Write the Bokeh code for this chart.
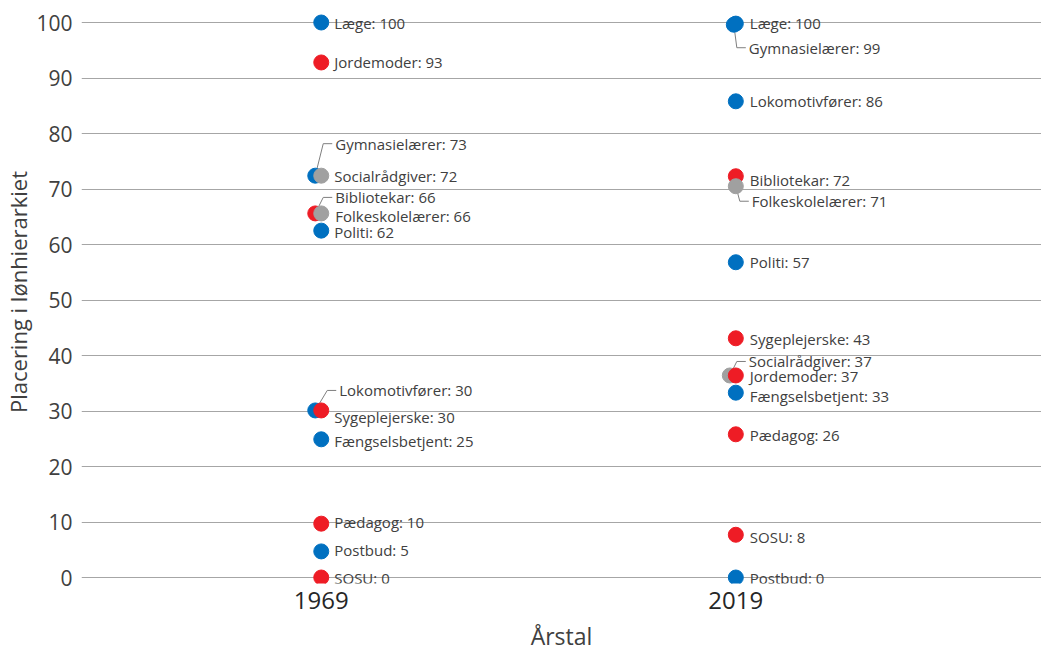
from bokeh.plotting import figure
from bokeh.models import ColumnDataSource, Range1d, FixedTicker
from bokeh.core.properties import value
from bokeh.embed import file_html
from bokeh.resources import INLINE
import math

# ---------------- data ----------------
years = [1969, 2019]

prof_1969 = ["Læge", "Jordemoder", "Gymnasielærer", "Socialrådgiver", "Bibliotekar",
             "Folkeskolelærer", "Politi", "Lokomotivfører", "Sygeplejerske",
             "Fængselsbetjent", "Pædagog", "Postbud", "SOSU"]
rank_1969 = [100, 93, 73, 72, 66, 66, 62, 30, 30, 25, 10, 5, 0]
pos_1969 = [100, 92.8, 72.4, 72.4, 65.6, 65.6, 62.5, 30.1, 30.1, 24.9, 9.7, 4.7, 0]

prof_2019 = ["Læge", "Gymnasielærer", "Lokomotivfører", "Bibliotekar", "Folkeskolelærer",
             "Politi", "Sygeplejerske", "Socialrådgiver", "Jordemoder", "Fængselsbetjent",
             "Pædagog", "SOSU", "Postbud"]
rank_2019 = [100, 99, 86, 72, 71, 57, 43, 37, 37, 33, 26, 8, 0]
pos_2019 = [99.8, 99.6, 85.8, 72.3, 70.5, 56.8, 43.1, 36.4, 36.4, 33.3, 25.8, 7.7, 0]

male_dominated = ["Læge", "Gymnasielærer", "Politi", "Lokomotivfører", "Fængselsbetjent", "Postbud"]
female_dominated = ["Jordemoder", "Bibliotekar", "Sygeplejerske", "Pædagog", "SOSU"]
mixed = ["Socialrådgiver", "Folkeskolelærer"]

# ---------------- layout (pixels) ----------------
# point dodge, label x/y offsets, leader line flag
dodge_1969 = [0, 0, -6, 0, -6, 0, 0, -6, 0, 0, 0, 0, 0]
lx_1969 = [13, 13, 14, 13, 14, 14, 13, 18, 13, 13, 13, 13, 13]
ly_1969 = [0, 0, -32, 0, -16, 3, 1, -20, 7, 2, -2, -1, 0]
lead_1969 = [0, 0, 1, 0, 1, 0, 0, 1, 0, 0, 0, 0, 0]

dodge_2019 = [0, -2, 0, 0, 0, 0, 0, -6, 0, 0, 0, 0, 0]
lx_2019 = [14, 13, 14, 14, 16, 14, 14, 13, 14, 14, 14, 14, 14]
ly_2019 = [-1, 23, 0, 4, 15, 0, 1, -14, 1, 3, 1, 2, 0]
lead_2019 = [0, 1, 0, 0, 1, 0, 0, 1, 0, 0, 0, 0, 0]

BLUE, RED, GREY = "#0070C0", "#EE1C25", "#A0A0A0"


def colour(name):
    if name in male_dominated:
        return BLUE
    if name in female_dominated:
        return RED
    return GREY


W, H = 1041, 654
LEFT, BOTTOM = 80, 71
FW, FH = W - LEFT, H - BOTTOM
PXY = 5.55                      # px per rank unit (0 -> 577, 100 -> 22)
Y1 = 100 + 22 / PXY
Y0 = Y1 - FH / PXY
PXX = 8.3                       # px per year (1969 -> 320, 2019 -> 735)
X0 = 1969 - (320 - LEFT) / PXX
X1 = X0 + FW / PXX
R = 7.5

pts = dict(x=[], y=[], c=[], order=[])
lab = dict(x=[], y=[], t=[], xo=[], yo=[])
lead_xs, lead_ys = [], []

for year, profs, ranks, poss, dod, lxs, lys, leads in [
    (years[0], prof_1969, rank_1969, pos_1969, dodge_1969, lx_1969, ly_1969, lead_1969),
    (years[1], prof_2019, rank_2019, pos_2019, dodge_2019, lx_2019, ly_2019, lead_2019),
]:
    for name, rk, ps, d, lx, ly, ld in zip(profs, ranks, poss, dod, lxs, lys, leads):
        px = year + d / PXX
        pts["x"].append(px)
        pts["y"].append(ps)
        pts["c"].append(colour(name))
        pts["order"].append(0 if d != 0 else 1)
        lab["x"].append(year)
        lab["y"].append(ps)
        lab["t"].append(f"{name}: {rk}")
        lab["xo"].append(lx)
        lab["yo"].append(ly)
        if ld:
            # screen coords relative to the point centre
            ex, ey = lx - d - 12, ly   # elbow
            hx = lx - d - 3            # end near label
            n = math.hypot(ex, ey)
            sx, sy = ex / n * R, ey / n * R
            xs = [px + sx / PXX, px + ex / PXX, px + hx / PXX]
            ys = [ps - sy / PXY, ps - ey / PXY, ps - ey / PXY]
            lead_xs.append(xs)
            lead_ys.append(ys)

# draw dodged (under) points first
idx = sorted(range(len(pts["x"])), key=lambda i: pts["order"][i])
psrc = ColumnDataSource(dict(x=[pts["x"][i] for i in idx],
                             y=[pts["y"][i] for i in idx],
                             c=[pts["c"][i] for i in idx]))
lsrc = ColumnDataSource(lab)

p = figure(width=W, height=H, output_backend="svg", toolbar_location=None,
           x_range=Range1d(X0, X1), y_range=Range1d(Y0, Y1),
           min_border_left=LEFT, min_border_bottom=BOTTOM,
           min_border_top=0, min_border_right=0)
p.outline_line_color = None
p.background_fill_color = "white"
p.border_fill_color = "white"

p.xgrid.grid_line_color = None
p.ygrid.ticker = FixedTicker(ticks=list(range(0, 101, 10)))
p.ygrid.grid_line_color = "#A6A6A6"
p.ygrid.grid_line_width = 1

p.yaxis.ticker = FixedTicker(ticks=list(range(0, 101, 10)))
p.xaxis.ticker = FixedTicker(ticks=years)
for ax in (p.xaxis, p.yaxis):
    ax.axis_line_color = None
    ax.major_tick_line_color = None
    ax.minor_tick_line_color = None
    ax.axis_label_text_font = "Open Sans"
    ax.axis_label_text_font_style = "normal"
    ax.axis_label_text_color = "#404040"
    ax.major_label_text_font = "Open Sans"

p.yaxis.major_label_text_font_size = "21px"
p.yaxis.major_label_text_color = "#404040"
p.yaxis.major_label_standoff = 3
p.yaxis.axis_label = "Placering i lønhierarkiet"
p.yaxis.axis_label_text_font_size = "22px"
p.yaxis.axis_label_standoff = 0

p.xaxis.major_label_text_font_size = "24px"
p.xaxis.major_label_text_color = "#262626"
p.xaxis.major_label_standoff = 2
p.xaxis.axis_label = "Årstal"
p.xaxis.axis_label_text_font_size = "23px"
p.xaxis.axis_label_standoff = 8

p.multi_line(xs=lead_xs, ys=lead_ys, line_color="#7F7F7F", line_width=1)
p.scatter(x="x", y="y", source=psrc, size=2 * R, fill_color="c", line_color="c")
p.text(x="x", y="y", text="t", x_offset="xo", y_offset="yo", source=lsrc,
       text_font=value("Open Sans"), text_font_size="15px", text_color="#404040",
       text_baseline="middle", text_align="left")

open("out.html", "w").write(file_html(p, INLINE))
